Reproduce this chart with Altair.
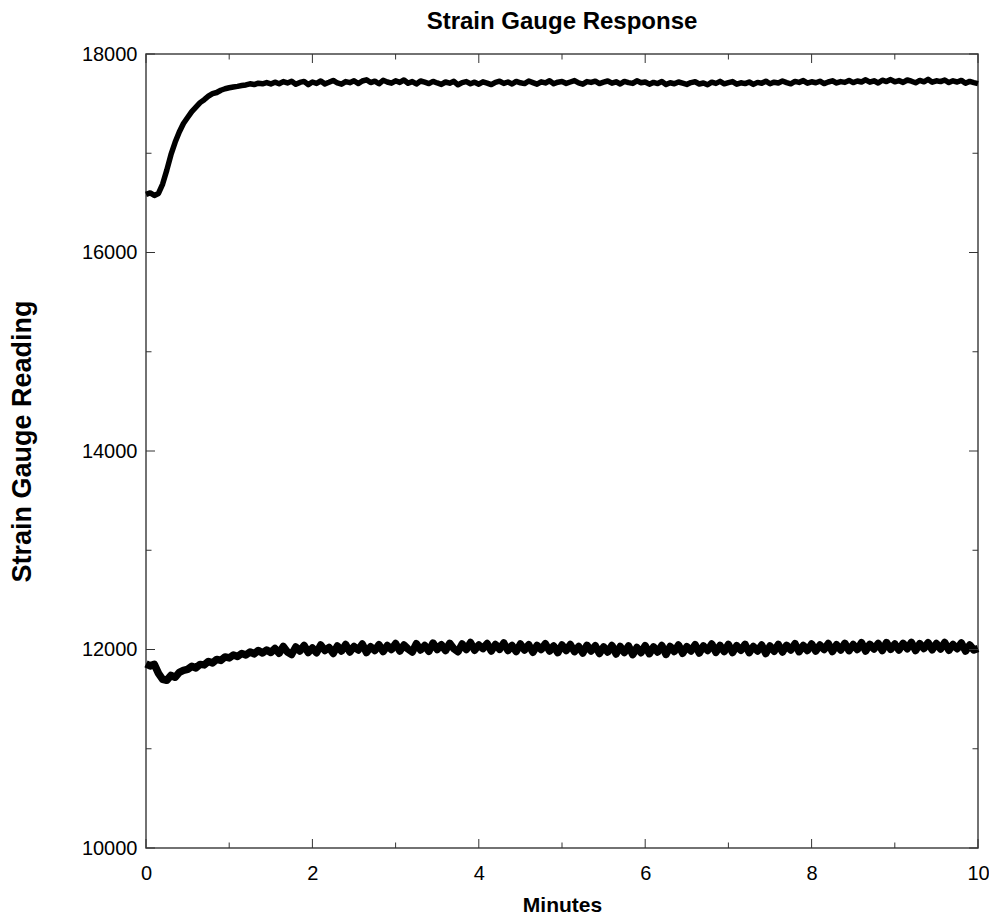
import altair as alt
import pandas as pd

minutes = [round(i * 0.05, 2) for i in range(201)]

upper_reading = [
    16585, 16600, 16575, 16595, 16690, 16830, 16985, 17110, 17215, 17300,
    17360, 17420, 17465, 17510, 17540, 17575, 17600, 17612, 17635, 17650,
    17660, 17668, 17674, 17682, 17688, 17700, 17692, 17706, 17700, 17712,
    17698,
    17716, 17700, 17722, 17708, 17725, 17695, 17714, 17724, 17691, 17718,
    17704, 17728, 17699, 17715, 17734, 17708, 17696, 17722, 17711, 17730,
    17702, 17728, 17740, 17712, 17726, 17700, 17735, 17718, 17706, 17730,
    17714, 17738, 17705, 17722, 17698, 17728, 17716, 17702, 17724, 17708,
    17694, 17718, 17706, 17725, 17690, 17712, 17722, 17700, 17716, 17696,
    17720, 17707, 17692, 17715, 17726, 17704, 17718, 17698, 17724, 17710,
    17702, 17728, 17712, 17696, 17720, 17708, 17730, 17700, 17716, 17722,
    17704, 17718, 17732, 17709, 17696, 17722, 17714, 17726, 17702, 17716,
    17728, 17706, 17720, 17698, 17724, 17712, 17704, 17730, 17710, 17718,
    17696, 17714, 17702, 17722, 17692, 17710, 17700, 17718, 17706, 17694,
    17712, 17720, 17698, 17708, 17690, 17716, 17704, 17724, 17700, 17712,
    17722, 17696, 17710, 17702, 17718, 17694, 17714, 17706, 17726, 17700,
    17716, 17708, 17728, 17712, 17700, 17724, 17714, 17732, 17706, 17720,
    17710, 17726, 17702, 17718, 17730, 17708, 17722, 17714, 17734, 17712,
    17728, 17718, 17740, 17716, 17730, 17708, 17736, 17722, 17742, 17720,
    17732, 17714, 17738, 17726, 17710, 17734, 17720, 17744, 17716, 17730,
    17722, 17738, 17712, 17730, 17718, 17734, 17706, 17724, 17712, 17702,
]

lower_reading = [
    11855, 11835, 11850, 11760, 11700, 11690, 11740, 11720, 11770, 11790,
    11800, 11830, 11815, 11850, 11845, 11880, 11865, 11900, 11890, 11925,
    11915, 11945, 11930, 11960, 11945, 11975, 11955, 11990, 11965, 11995,
    11970,
    12010, 11962, 12030, 11975, 11950, 12025, 11985, 12040, 11970, 12015,
    11968, 12045, 11990, 12020, 11960, 12035, 11985, 12050, 11975, 12030,
    11995, 12055, 11970, 12028, 11990, 12048, 11980, 12040, 12000, 12060,
    11985, 12045, 12005, 11975, 12058, 11995, 12040, 11982, 12065, 12000,
    12048, 11990, 12062, 12008, 11978, 12055, 12000, 12070, 11992, 12045,
    12010, 12060, 11985, 12050, 12002, 12066, 11990, 12040, 11980, 12055,
    11995, 12048, 11972, 12040, 12000, 12058, 11985, 12035, 11968, 12045,
    11990, 12050, 11978, 12030, 11965, 12042, 11985, 12038, 11960, 12025,
    11975, 12040, 11955, 12030, 11970, 12035, 11948, 12020, 11968, 12038,
    11958, 12025, 11975, 12040, 11950, 12030, 11980, 12045, 11962, 12028,
    11985, 12048, 11965, 12035, 11990, 12055, 11972, 12040, 11980, 12050,
    11970, 12038, 11992, 12052, 11968, 12030, 11985, 12045, 11960, 12035,
    11982, 12050, 11975, 12042, 11995, 12058, 11978, 12040, 11990, 12055,
    11985, 12045, 12000, 12060, 11980, 12048, 11995, 12062, 11988, 12050,
    12000, 12068, 11985, 12052, 12005, 12060, 11990, 12070, 12002, 12055,
    11995, 12062, 12008, 12072, 11990, 12058, 12010, 12068, 11998, 12060,
    12005, 12070, 11992, 12050, 12008, 12065, 11985, 12045, 11995, 12010,
]

x_major = [0, 2, 4, 6, 8, 10]
x_minor = [1, 3, 5, 7, 9]
y_major = [10000, 12000, 14000, 16000, 18000]
y_minor = [11000, 13000, 15000, 17000]

TITLE = "Strain Gauge Response"
X_TITLE = "Minutes"
Y_TITLE = "Strain Gauge Reading"

# ---- layout ----
W, H = 832, 794
FONT = "Liberation Sans"
MAJ, MIN = 9, 5.5
TICK_COLOR = "#333333"

xs = alt.Scale(domain=[0, 10], nice=False, zero=False)
ys = alt.Scale(domain=[10000, 18000], nice=False, zero=False)

df_upper = pd.DataFrame({"minute": minutes, "reading": upper_reading})
df_lower = pd.DataFrame({"minute": minutes, "reading": lower_reading})

x_axis = alt.Axis(
    values=x_major, ticks=False, domain=False, grid=False, format="d", labelFlush=False,
    labelFont=FONT, labelFontSize=20, labelColor="black", labelPadding=15,
    title=X_TITLE, titleFont=FONT, titleFontSize=21, titleFontWeight="bold",
    titleColor="black", titleX=W / 2, titleY=57, titleBaseline="middle",
)
y_axis = alt.Axis(
    values=y_major, ticks=False, domain=False, grid=False, format="d", labelFlush=False,
    labelFont=FONT, labelFontSize=20, labelColor="black", labelPadding=9,
    title=Y_TITLE, titleFont=FONT, titleFontSize=27, titleFontWeight="bold",
    titleColor="black", titleX=-124, titleY=387, titleAngle=270,
    titleAlign="center", titleBaseline="middle",
)

upper = alt.Chart(df_upper).mark_line(color="black", strokeWidth=5.5, strokeJoin="round").encode(
    x=alt.X("minute:Q", scale=xs, axis=x_axis),
    y=alt.Y("reading:Q", scale=ys, axis=y_axis),
)
lower = alt.Chart(df_lower).mark_line(color="black", strokeWidth=7.5, strokeJoin="round").encode(
    x=alt.X("minute:Q", scale=xs, axis=x_axis),
    y=alt.Y("reading:Q", scale=ys, axis=y_axis),
)


def xticks(vals, length):
    d = pd.DataFrame({"v": vals})
    bottom = alt.Chart(d).mark_rule(color=TICK_COLOR, strokeWidth=1).encode(
        x=alt.X("v:Q", scale=xs, axis=x_axis), y=alt.value(H), y2=alt.value(H - length))
    top = alt.Chart(d).mark_rule(color=TICK_COLOR, strokeWidth=1).encode(
        x=alt.X("v:Q", scale=xs, axis=x_axis), y=alt.value(0), y2=alt.value(length))
    return [bottom, top]


def yticks(vals, length):
    d = pd.DataFrame({"v": vals})
    left = alt.Chart(d).mark_rule(color=TICK_COLOR, strokeWidth=1).encode(
        y=alt.Y("v:Q", scale=ys, axis=y_axis), x=alt.value(0), x2=alt.value(length))
    right = alt.Chart(d).mark_rule(color=TICK_COLOR, strokeWidth=1).encode(
        y=alt.Y("v:Q", scale=ys, axis=y_axis), x=alt.value(W), x2=alt.value(W - length))
    return [left, right]


layers = [upper, lower] + xticks(x_major, MAJ) + xticks(x_minor, MIN) + yticks(y_major, MAJ) + yticks(y_minor, MIN)

chart = alt.layer(*layers).properties(
    width=W, height=H,
    autosize=alt.AutoSizeParams(type="none"),
    padding={"left": 138, "top": 46, "right": 11, "bottom": 67},
    title=alt.TitleParams(TITLE, font=FONT, fontSize=24, fontWeight="bold", color="black",
                          anchor="middle", offset=10),
).configure(
    background="white",
    view=alt.ViewConfig(stroke="#444444", strokeWidth=1.5),
)

chart.save("out.html", embed_options={"renderer": "svg", "actions": False})
